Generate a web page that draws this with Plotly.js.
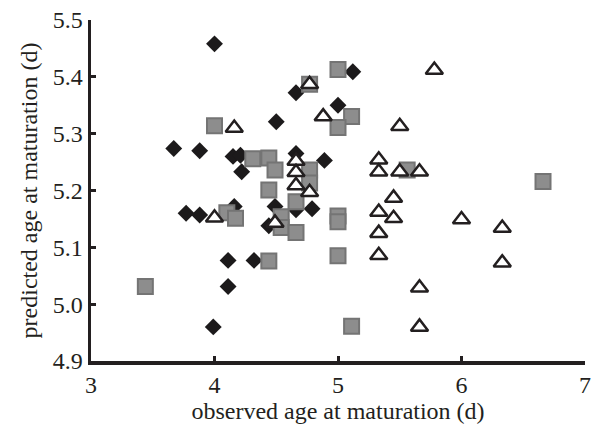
<!DOCTYPE html>
<html>
<head>
<meta charset="utf-8">
<script src="https://cdn.plot.ly/plotly-3.0.1.min.js"></script>
<style>html,body{margin:0;padding:0;background:#fff;}#chart{width:598px;height:432px;}</style>
</head>
<body>
<div id="chart"></div>
<script>
// Black diamonds
const diamondX = [4.00, 3.67, 3.88, 4.15, 4.21, 4.22, 3.77, 3.88, 4.16, 4.11, 4.32, 4.11, 3.99, 5.12, 4.66, 5.00, 4.50, 4.66, 4.89, 4.49, 4.66, 4.79, 4.44];
const diamondY = [5.458, 5.274, 5.270, 5.260, 5.262, 5.233, 5.160, 5.157, 5.172, 5.077, 5.077, 5.031, 4.960, 5.409, 5.372, 5.350, 5.321, 5.265, 5.253, 5.172, 5.166, 5.168, 5.138];
// Grey squares
const squareX = [4.00, 4.31, 4.44, 4.49, 4.10, 4.17, 3.44, 5.00, 4.77, 5.11, 5.00, 4.77, 4.77, 4.44, 4.66, 4.54, 4.54, 4.66, 5.00, 5.00, 5.00, 4.44, 5.11, 5.56, 6.66];
const squareY = [5.314, 5.256, 5.257, 5.236, 5.161, 5.151, 5.031, 5.413, 5.387, 5.330, 5.311, 5.236, 5.213, 5.201, 5.180, 5.154, 5.135, 5.126, 5.155, 5.145, 5.085, 5.076, 4.961, 5.236, 5.216];
// Open triangles
const triangleX = [4.16, 4.00, 4.77, 4.88, 5.50, 4.66, 4.66, 4.66, 4.77, 4.49, 5.33, 5.33, 5.50, 5.66, 5.45, 5.33, 5.45, 5.33, 5.33, 5.78, 6.00, 6.33, 6.33, 5.66, 5.66];
const triangleY = [5.310, 5.152, 5.387, 5.330, 5.313, 5.252, 5.232, 5.209, 5.197, 5.143, 5.254, 5.233, 5.233, 5.233, 5.187, 5.162, 5.151, 5.125, 5.086, 5.412, 5.149, 5.134, 5.073, 5.029, 4.960];

const xTicks = [3, 4, 5, 6, 7];
const yTicks = [4.9, 5.0, 5.1, 5.2, 5.3, 5.4, 5.5];

const ink = '#231f20';
const traces = [
  {x: diamondX, y: diamondY, type: 'scatter', mode: 'markers', cliponaxis: false,
   marker: {symbol: 'diamond', size: 13, color: '#1c1a1b', line: {width: 0}}},
  {x: squareX, y: squareY, type: 'scatter', mode: 'markers', cliponaxis: false,
   marker: {symbol: 'square', size: 15, color: '#8d8d8d', line: {width: 2, color: '#747474'}}},
  {x: triangleX, y: triangleY, type: 'scatter', mode: 'markers', cliponaxis: false,
   marker: {symbol: 'triangle-up', size: 15, color: '#ffffff', line: {width: 2.5, color: ink}}}
];

const family = '"Liberation Serif", "Times New Roman", serif';
const tickFont = {family: family, size: 24, color: ink};
const titleFont = {family: family, size: 24, color: ink};
const layout = {
  width: 598, height: 432,
  margin: {l: 91, r: 13, t: 20, b: 71},
  paper_bgcolor: '#ffffff', plot_bgcolor: '#ffffff',
  showlegend: false,
  font: tickFont,
  xaxis: {
    range: [3, 7], tickvals: xTicks, ticktext: xTicks.map(String),
    showgrid: false, zeroline: false,
    showline: true, linecolor: ink, linewidth: 3.5,
    ticks: 'inside', ticklen: 5, tickwidth: 3, tickcolor: ink,
    tickfont: tickFont,
    title: {text: 'observed age at maturation (d)', font: titleFont, standoff: 4}
  },
  yaxis: {
    range: [4.9, 5.5], tickvals: yTicks, ticktext: yTicks.map(v => v.toFixed(1)),
    showgrid: false, zeroline: false,
    showline: true, linecolor: ink, linewidth: 3.5,
    ticks: 'inside', ticklen: 5, tickwidth: 3, tickcolor: ink,
    tickfont: tickFont,
    title: {text: 'predicted age at maturation (d)', font: titleFont, standoff: 9}
  }
};
Plotly.newPlot('chart', traces, layout, {staticPlot: true, displayModeBar: false});
</script>
</body>
</html>
